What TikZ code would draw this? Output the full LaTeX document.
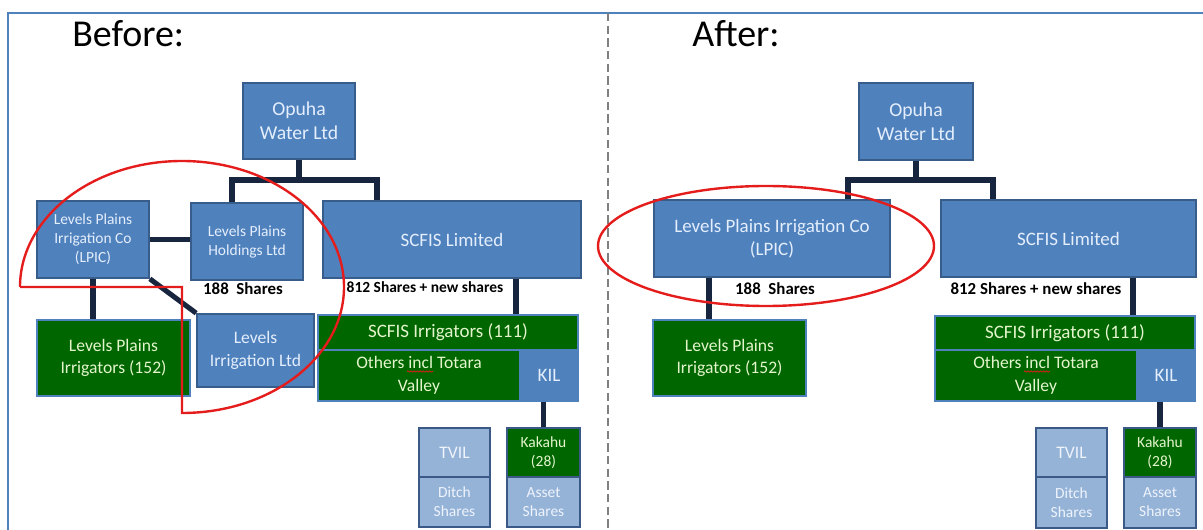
\documentclass[tikz,border=0pt]{standalone}
\usepackage{fontspec}
\setmainfont{Carlito}
\usetikzlibrary{decorations.pathmorphing}
\definecolor{blufill}{RGB}{79,129,189}
\definecolor{bluedge}{RGB}{56,93,138}
\definecolor{blutext}{RGB}{228,238,252}
\definecolor{grnfill}{RGB}{0,102,0}
\definecolor{grntext}{RGB}{228,245,205}
\definecolor{palefill}{RGB}{149,179,215}
\definecolor{paleedge}{RGB}{59,89,134}
\definecolor{paletext}{RGB}{238,243,252}
\definecolor{linkcol}{RGB}{23,37,62}
\definecolor{ringred}{RGB}{228,28,28}
\definecolor{framecol}{RGB}{79,129,189}
\tikzset{
  blubox/.style={rectangle, draw=bluedge, fill=blufill, line width=1.2pt, text=blutext, align=center, inner sep=0pt},
  grnbox/.style={rectangle, draw=blufill, fill=grnfill, line width=1.2pt, text=grntext, align=center, inner sep=0pt},
  palebox/.style={rectangle, draw=paleedge, fill=palefill, line width=1.6pt, text=paletext, align=center, inner sep=0pt},
  kakbox/.style={palebox, fill=grnfill, text=grntext},
  sz/.style 2 args={minimum width=#1cm, minimum height=#2cm},
  t11/.style={font=\fontsize{11}{13.5}\selectfont},
  t12/.style={font=\fontsize{12.5}{16}\selectfont},
  t13/.style={font=\fontsize{13.5}{16.5}\selectfont},
  t14/.style={font=\fontsize{14}{17}\selectfont},
  link/.style={draw=linkcol, line width=3.6pt, line join=miter},
  ring/.style={draw=ringred, line width=1.7pt},
  squig/.style={draw=ringred, line width=0.5pt, decorate, decoration={snake, amplitude=0.5pt, segment length=2.2pt}},
  shares/.style={inner sep=0pt, text=black, font=\bfseries\fontsize{12}{14}\selectfont},
  title/.style={inner sep=0pt, text=black, font=\fontsize{27}{30}\selectfont},
}
\begin{document}
\begin{tikzpicture}[x=0.025cm, y=-0.025cm]
\useasboundingbox (0,0) rectangle (1203,530);
% frame and divider
\draw[framecol, line width=1.5pt] (8,530) -- (8,13) -- (1203,13);
\draw[gray, line width=0.8pt, dash pattern=on 6pt off 3pt] (608,13) -- (608,530);
\node[title, anchor=base west] (before) at (72,47) {Before:};
\node[title, anchor=base west] (after) at (692,47) {After:};

% before
\node[blubox, sz={2.8}{1.9}, t14] (opuhaA) at (299,121) {Opuha\\Water Ltd};
\node[blubox, sz={2.8}{1.925}, t11] (lpicA) at (93,239.5) {Levels Plains\\Irrigation Co\\(LPIC)};
\node[blubox, sz={2.8}{1.925}, t11] (lphA) at (247,241.5) {Levels Plains\\Holdings Ltd};
\node[blubox, sz={6.45}{1.925}, t13] (scfisA) at (452,239.5) {SCFIS Limited};
\node[grnbox, sz={3.825}{1.9}, t12] (lpiA) at (113.5,358) {Levels Plains\\Irrigators (152)};
\node[blubox, sz={2.925}{1.825}, t12] (lilA) at (255.5,350.5) {Levels\\Irrigation Ltd};
\node[grnbox, sz={6.5}{0.875}, t13] (irrA) at (448,332.5) {SCFIS Irrigators (111)};
\node[grnbox, sz={5.05}{1.275}, t12] (othA) at (419,375.5) {Others incl Totara\\Valley};
\node[blubox, draw=blufill, sz={1.45}{1.275}, t13] (kilA) at (549,375.5) {KIL};
\node[palebox, sz={1.775}{1.225}, t12] (tvilA) at (454.5,452.5) {TVIL};
\node[palebox, sz={1.775}{1.25}, t11] (ditchA) at (454.5,502) {Ditch\\Shares};
\node[kakbox, sz={1.825}{1.225}, t11] (kakA) at (543.5,452.5) {Kakahu\\(28)};
\node[palebox, sz={1.825}{1.25}, t11] (assetA) at (543.5,502) {Asset\\Shares};
\node[shares] (sh188A) at (243,289) {188\ \ Shares};
\node[shares, font=\bfseries\fontsize{11}{13}\selectfont] (sh812A) at (425,287) {812 Shares + new shares};
\coordinate (jA1) at (232,180);
\coordinate (jA2) at (377,180);
\coordinate (jA3) at (516,300);
\draw[link] (opuhaA.south) -- (opuhaA.south |- jA1);
\draw[link] (jA1 |- lphA.north) -- (jA1) -- (jA2) -- (jA2 |- scfisA.north);
\path[link] (lpicA.east) edge (lpicA.east -| lphA.west);
\path[link] (lpicA.south) edge (lpicA.south |- lpiA.north);
\path[link] (lpicA.south east) edge (lilA.north west);
\draw[link] (jA3 |- scfisA.south) -- (jA3 |- irrA.north);
\draw[link] (kakA.north |- kilA.south) -- (kakA.north);
\draw[squig] ([shift={(-12,-4)}]othA.center) -- ([shift={(14,-4)}]othA.center);
\draw[ring] (20,287) -- (182,287) -- (182,413) arc[start angle=90, end angle=-180, x radius=162, y radius=126];

% after
\node[blubox, sz={2.85}{1.925}, t14] (opuhaB) at (916,121.5) {Opuha\\Water Ltd};
\node[blubox, sz={5.9}{1.925}, t13] (lpicB) at (772,238.5) {Levels Plains Irrigation Co\\(LPIC)};
\node[blubox, sz={6.375}{1.925}, t13] (scfisB) at (1068.5,238.5) {SCFIS Limited};
\node[grnbox, sz={3.825}{1.9}, t12] (lpiB) at (729.5,358) {Levels Plains\\Irrigators (152)};
\node[grnbox, sz={6.5}{0.85}, t13] (irrB) at (1065,333) {SCFIS Irrigators (111)};
\node[grnbox, sz={5.05}{1.275}, t12] (othB) at (1036,375.5) {Others incl Totara\\Valley};
\node[blubox, draw=blufill, sz={1.45}{1.275}, t13] (kilB) at (1166,375.5) {KIL};
\node[palebox, sz={1.775}{1.225}, t12] (tvilB) at (1071.5,452.5) {TVIL};
\node[palebox, sz={1.775}{1.275}, t11] (ditchB) at (1071.5,502.5) {Ditch\\Shares};
\node[kakbox, sz={1.8}{1.225}, t11] (kakB) at (1160,452.5) {Kakahu\\(28)};
\node[palebox, sz={1.8}{1.275}, t11] (assetB) at (1160,502.5) {Asset\\Shares};
\node[shares] (sh188B) at (775,289) {188\ \ Shares};
\node[shares] (sh812B) at (1036,289) {812\ Shares + new shares};
\coordinate (jB1) at (848,180);
\coordinate (jB2) at (993,180);
\coordinate (jB3) at (709,300);
\coordinate (jB4) at (1133,300);
\draw[link] (opuhaB.south) -- (opuhaB.south |- jB1);
\draw[link] (jB1 |- lpicB.north) -- (jB1) -- (jB2) -- (jB2 |- scfisB.north);
\draw[link] (jB3 |- lpicB.south) -- (jB3 |- lpiB.north);
\draw[link] (jB4 |- scfisB.south) -- (jB4 |- irrB.north);
\draw[link] (kakB.north |- kilB.south) -- (kakB.north);
\draw[squig] ([shift={(-12,-4)}]othB.center) -- ([shift={(14,-4)}]othB.center);
\draw[ring] (766,246) ellipse[x radius=168, y radius=60];
\end{tikzpicture}
\end{document}
